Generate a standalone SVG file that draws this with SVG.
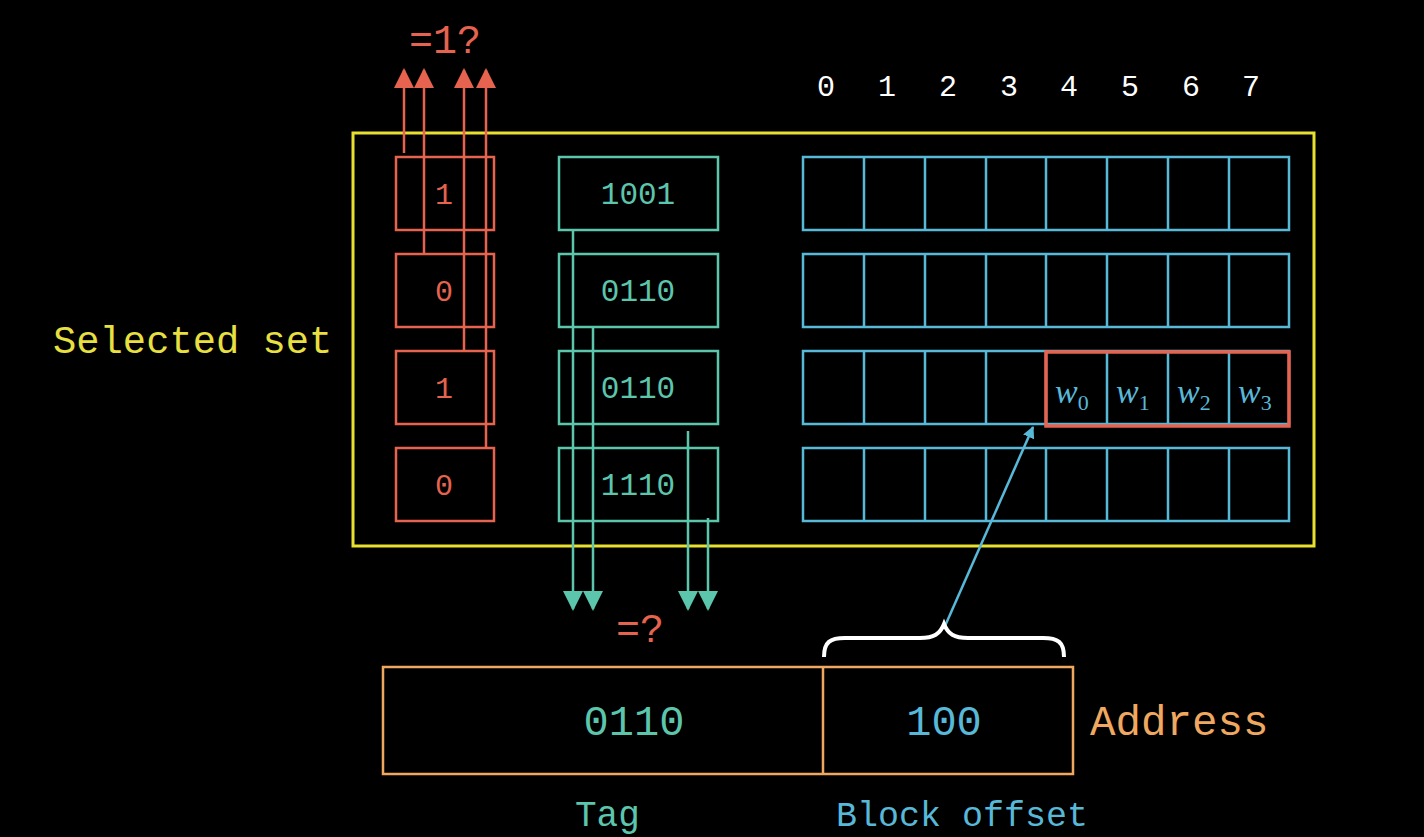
<svg xmlns="http://www.w3.org/2000/svg" width="1424" height="837" viewBox="0 0 1424 837">
<defs>
<style>
.mono{font-family:"Liberation Mono","DejaVu Sans Mono",monospace}
.red{stroke:#E5634F;fill:none;stroke-width:2.5}
.teal{stroke:#5CC6AD;fill:none;stroke-width:2.5}
.blue{stroke:#58B8D8;fill:none;stroke-width:2.5}
.tr{fill:#E5634F}
.tt{fill:#5CC6AD}
.tb{fill:#58B8D8}
.w{font-family:"Liberation Serif","DejaVu Serif",serif;fill:#58B8D8}
</style>
<marker id="ar" viewBox="0 0 10 10" refX="9" refY="5" markerWidth="20" markerHeight="20" markerUnits="userSpaceOnUse" orient="auto"><path d="M0,0 L10,5 L0,10 z" fill="#E5634F"/></marker>
<marker id="at" viewBox="0 0 10 10" refX="9" refY="5" markerWidth="20" markerHeight="20" markerUnits="userSpaceOnUse" orient="auto"><path d="M0,0 L10,5 L0,10 z" fill="#5CC6AD"/></marker>
<marker id="ab" viewBox="0 0 10 10" refX="9" refY="5" markerWidth="12" markerHeight="12" markerUnits="userSpaceOnUse" orient="auto"><path d="M0,0 L10,5 L0,10 z" fill="#58B8D8"/></marker>
</defs>
<rect width="1424" height="837" fill="#000"/>

<g id="set">
<rect x="353" y="133" width="961" height="413" fill="none" stroke="#E8E030" stroke-width="3"/>
<text x="53" y="353" class="mono" font-size="38.8" fill="#E8E040">Selected set</text>
</g>

<g id="columns" class="mono" font-size="30" fill="#fff" text-anchor="middle">
<text x="826" y="96">0</text><text x="887" y="96">1</text><text x="948" y="96">2</text><text x="1009" y="96">3</text>
<text x="1069" y="96">4</text><text x="1130" y="96">5</text><text x="1191" y="96">6</text><text x="1251" y="96">7</text>
</g>

<g id="valid">
<rect class="red" x="396" y="157" width="98" height="73"/>
<rect class="red" x="396" y="254" width="98" height="73"/>
<rect class="red" x="396" y="351" width="98" height="73"/>
<rect class="red" x="396" y="448" width="98" height="73"/>
<g class="mono tr" font-size="30" text-anchor="middle">
<text x="444" y="204">1</text><text x="444" y="301">0</text><text x="444" y="398">1</text><text x="444" y="495">0</text>
</g>
</g>

<g id="tags">
<rect class="teal" x="559" y="157" width="159" height="73"/>
<rect class="teal" x="559" y="254" width="159" height="73"/>
<rect class="teal" x="559" y="351" width="159" height="73"/>
<rect class="teal" x="559" y="448" width="159" height="73"/>
<g class="mono tt" font-size="31" text-anchor="middle">
<text x="638" y="204">1001</text><text x="638" y="301">0110</text><text x="638" y="398">0110</text><text x="638" y="495">1110</text>
</g>
</g>

<g id="blocks" class="blue">
<rect x="803" y="157" width="486" height="73"/>
<rect x="803" y="254" width="486" height="73"/>
<rect x="803" y="351" width="486" height="73"/>
<rect x="803" y="448" width="486" height="73"/>
<path d="M864,157V230M925,157V230M986,157V230M1046,157V230M1107,157V230M1168,157V230M1229,157V230
M864,254V327M925,254V327M986,254V327M1046,254V327M1107,254V327M1168,254V327M1229,254V327
M864,351V424M925,351V424M986,351V424M1046,351V424M1107,351V424M1168,351V424M1229,351V424
M864,448V521M925,448V521M986,448V521M1046,448V521M1107,448V521M1168,448V521M1229,448V521"/>
</g>

<g id="words">
<rect x="1046" y="352" width="243" height="74" fill="none" stroke="#E5634F" stroke-width="3.5"/>
<g font-size="34">
<text class="w" x="1055" y="403"><tspan font-style="italic">w</tspan><tspan font-size="22" dy="7">0</tspan></text>
<text class="w" x="1116" y="403"><tspan font-style="italic">w</tspan><tspan font-size="22" dy="7">1</tspan></text>
<text class="w" x="1177" y="403"><tspan font-style="italic">w</tspan><tspan font-size="22" dy="7">2</tspan></text>
<text class="w" x="1238" y="403"><tspan font-style="italic">w</tspan><tspan font-size="22" dy="7">3</tspan></text>
</g>
</g>

<g id="connectors">
<path class="red" d="M404,153V70" marker-end="url(#ar)"/>
<path class="red" d="M424,254V70" marker-end="url(#ar)"/>
<path class="red" d="M464,351V70" marker-end="url(#ar)"/>
<path class="red" d="M486,448V70" marker-end="url(#ar)"/>
<path class="teal" d="M573,230V609" marker-end="url(#at)"/>
<path class="teal" d="M593,327V609" marker-end="url(#at)"/>
<path class="teal" d="M688,431V609" marker-end="url(#at)"/>
<path class="teal" d="M708,518V609" marker-end="url(#at)"/>
<path class="blue" d="M945,626L1033,427" marker-end="url(#ab)"/>
</g>

<g id="compare-labels" class="mono tr" font-size="40" text-anchor="middle">
<text x="445" y="53">=1?</text>
<text x="640" y="642">=?</text>
</g>

<g id="brace">
<path d="M824,657C824,642 830,638 845,638L920,638C934,638 940,634 944,624C948,634 954,638 968,638L1043,638C1058,638 1064,642 1064,657" fill="none" stroke="#fff" stroke-width="4"/>
</g>

<g id="address">
<rect x="383" y="667" width="690" height="107" fill="none" stroke="#F0A860" stroke-width="2.5"/>
<path d="M823,667V774" stroke="#F0A860" stroke-width="2.5"/>
<text x="634" y="735" class="mono tt" font-size="42" text-anchor="middle">0110</text>
<text x="944" y="735" class="mono tb" font-size="42" text-anchor="middle">100</text>
<text x="1090" y="735" class="mono" font-size="42.5" fill="#F0A860">Address</text>
<text x="575" y="826" class="mono tt" font-size="36">Tag</text>
<text x="836" y="826" class="mono tb" font-size="35">Block offset</text>
</g>
</svg>
